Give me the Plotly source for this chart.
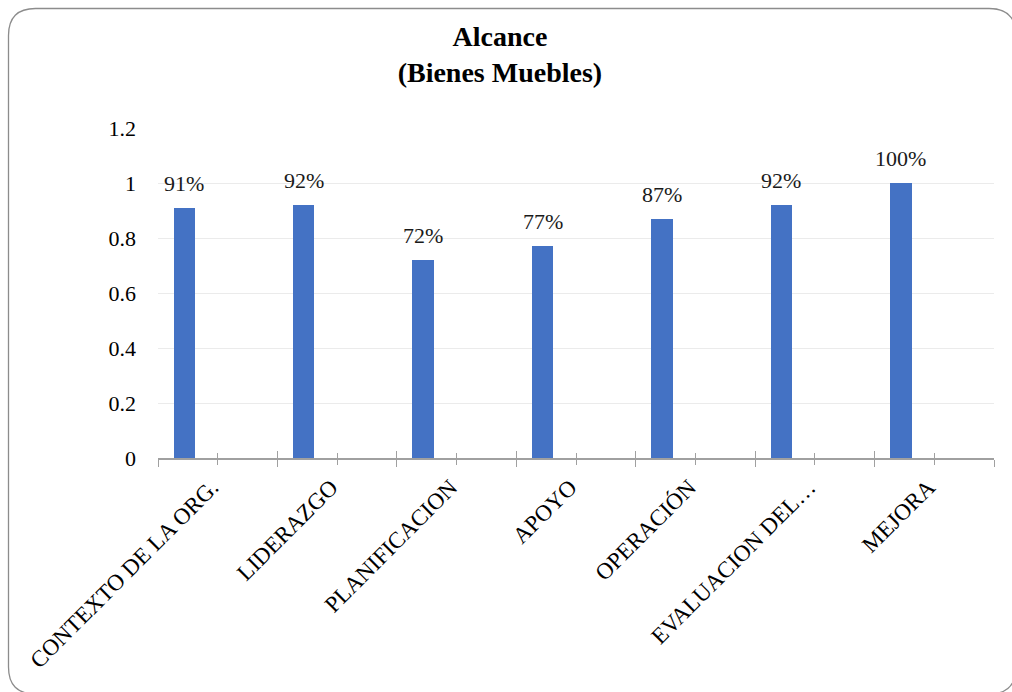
import plotly.graph_objects as go

categories = ["CONTEXTO DE LA ORG.", "LIDERAZGO", "PLANIFICACION", "APOYO",
              "OPERACIÓN", "EVALUACION DEL…", "MEJORA"]
values = [0.91, 0.92, 0.72, 0.77, 0.87, 0.92, 1.00]
labels = ["91%", "92%", "72%", "77%", "87%", "92%", "100%"]
y_ticks = [0, 0.2, 0.4, 0.6, 0.8, 1.0, 1.2]

W, H = 1012, 692
ML, MR, MT, MB = 158, 18, 128, 234
PW, PH = W - ML - MR, H - MT - MB

FONT = "Liberation Serif, Times New Roman, serif"
BAR_COLOR = "#4472C4"
BAR_OFFSET = -0.37
BAR_WIDTH = 0.18

idx = list(range(len(categories)))

fig = go.Figure()
fig.add_trace(go.Bar(
    x=idx, y=values, offset=BAR_OFFSET, width=BAR_WIDTH,
    marker=dict(color=BAR_COLOR, line=dict(width=0)),
    showlegend=False, hoverinfo="skip",
))
# invisible trace for the overlay axis used to draw crossing ticks
fig.add_trace(go.Scatter(x=[idx[0]], y=[0], xaxis="x2", yaxis="y",
                         mode="markers", marker=dict(opacity=0),
                         showlegend=False, hoverinfo="skip"))

for i, v, t in zip(idx, values, labels):
    fig.add_annotation(x=i + BAR_OFFSET + BAR_WIDTH / 2, y=v, text=t,
                       xref="x", yref="y", showarrow=False,
                       yanchor="bottom", yshift=10,
                       font=dict(family=FONT, size=22, color="#1a1a1a"))

def px2x(p):
    return (p - ML) / PW

def px2y(p):
    return (H - MB - p) / PH

# rounded chart border
x0, y0, x1, y1, r = 8.5, 8.5, 1016, 694, 27
path = (f"M {px2x(x0)},{px2y(y0 + r)} "
        f"Q {px2x(x0)},{px2y(y0)} {px2x(x0 + r)},{px2y(y0)} "
        f"L {px2x(x1 - r)},{px2y(y0)} "
        f"Q {px2x(x1)},{px2y(y0)} {px2x(x1)},{px2y(y0 + r)} "
        f"L {px2x(x1)},{px2y(y1 - r)} "
        f"Q {px2x(x1)},{px2y(y1)} {px2x(x1 - r)},{px2y(y1)} "
        f"L {px2x(x0 + r)},{px2y(y1)} "
        f"Q {px2x(x0)},{px2y(y1)} {px2x(x0)},{px2y(y1 - r)} Z")
fig.add_shape(type="path", path=path, xref="paper", yref="paper",
              line=dict(color="#8c8c8c", width=1.3), layer="below")

AX = "#a0a0a0"
fig.update_layout(
    width=W, height=H,
    margin=dict(l=ML, r=MR, t=MT, b=MB, pad=0),
    paper_bgcolor="white", plot_bgcolor="white",
    font=dict(family=FONT, size=22, color="#000000"),
    title=dict(text="<b>Alcance<br>(Bienes Muebles)</b>",
               x=0.494, xanchor="center", y=1 - 46 / H, yanchor="top",
               font=dict(family=FONT, size=28, color="#000000")),
    xaxis=dict(
        range=[-0.5, len(categories) - 0.5],
        tickmode="array", tickvals=idx, ticktext=categories,
        tickangle=-45, ticks="outside", ticklen=5, tickwidth=1.3, tickcolor=AX,
        minor=dict(tick0=-0.5, dtick=1, ticks="outside", ticklen=7,
                   tickwidth=1.3, tickcolor=AX, showgrid=False),
        showline=True, linecolor=AX, linewidth=1.5,
        showgrid=False, zeroline=False, ticklabelstandoff=0,
        ticklabelshift=-6,
        tickfont=dict(family=FONT, size=23, color="#000000"),
        fixedrange=True,
    ),
    xaxis2=dict(
        range=[-0.5, len(categories) - 0.5], overlaying="x", anchor="y",
        side="bottom", tickmode="array", tickvals=idx,
        ticks="inside", ticklen=5, tickwidth=1.3, tickcolor=AX,
        minor=dict(tick0=-0.5, dtick=1, ticks="inside", ticklen=7,
                   tickwidth=1.3, tickcolor=AX, showgrid=False),
        showticklabels=False, showgrid=False, showline=False, zeroline=False,
        fixedrange=True,
    ),
    yaxis=dict(
        range=[0, 1.2], tickmode="array", tickvals=y_ticks,
        ticktext=[f"{v:g}" for v in y_ticks],
        showgrid=True, gridcolor="#ebebeb", gridwidth=1,
        showline=False, zeroline=False, ticks="",
        ticklabelstandoff=21,
        tickfont=dict(family=FONT, size=22, color="#000000"),
        fixedrange=True,
    ),
    bargap=0,
)

fig.write_html("out.html", config={"displayModeBar": False})
